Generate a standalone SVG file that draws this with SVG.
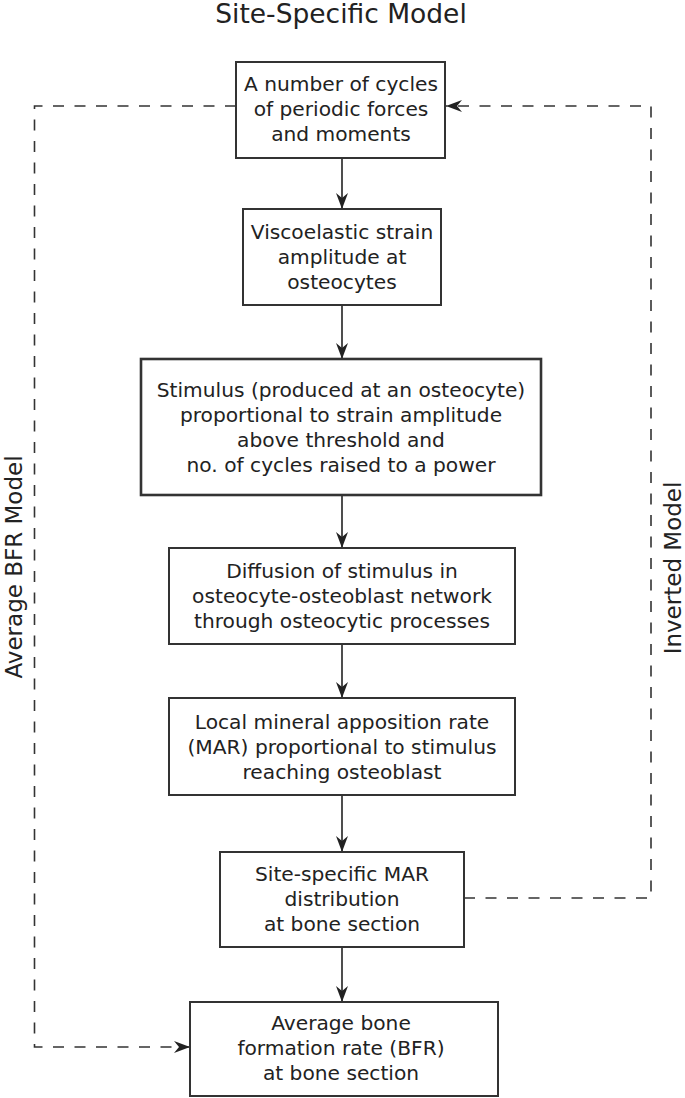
<svg xmlns="http://www.w3.org/2000/svg" width="685" height="1098" viewBox="0 0 685 1098">
<style>
.box{fill:#fff;stroke:#333;stroke-width:2}
.thick{stroke-width:2.6}
.t{font-family:"DejaVu Sans",sans-serif;font-size:20.2px;fill:#222;text-anchor:middle}
.big{font-family:"DejaVu Sans",sans-serif;font-size:23px;fill:#222;text-anchor:middle}
.title{font-family:"DejaVu Sans",sans-serif;font-size:26.5px;fill:#222;text-anchor:middle}
.c{stroke:#222;stroke-width:1.6;fill:none}
.d{stroke:#333;stroke-width:1.6;fill:none;stroke-dasharray:11,10.5}
</style>
<defs>
<marker id="ah" viewBox="0 0 16 12" refX="16" refY="6" markerWidth="16" markerHeight="12" markerUnits="userSpaceOnUse" orient="auto">
<path d="M0,0 L16,6 L0,12 L5,6 z" fill="#222"/>
</marker>
</defs>
<text class="title" x="341" y="23">Site-Specific Model</text>
<text class="big" transform="translate(22,567) rotate(-90)">Average BFR Model</text>
<text class="big" transform="translate(681,568) rotate(-90)">Inverted Model</text>
<g id="connectors">
<line class="c" x1="342" y1="158" x2="342" y2="209" marker-end="url(#ah)"/>
<line class="c" x1="342" y1="305" x2="342" y2="359" marker-end="url(#ah)"/>
<line class="c" x1="342" y1="495" x2="342" y2="548" marker-end="url(#ah)"/>
<line class="c" x1="342" y1="644" x2="342" y2="698" marker-end="url(#ah)"/>
<line class="c" x1="342" y1="795" x2="342" y2="852" marker-end="url(#ah)"/>
<line class="c" x1="342" y1="947" x2="342" y2="1002" marker-end="url(#ah)"/>
<polyline class="d" points="236,106 34.5,106 34.5,1047 190,1047" marker-end="url(#ah)"/>
<polyline class="d" points="464,898 651,898 651,106 446,106" marker-end="url(#ah)"/>
</g>
<g id="n1"><rect class="box" x="236" y="62" width="209" height="96"/>
<text class="t" x="341" y="91">A number of cycles</text><text class="t" x="341" y="116">of periodic forces</text><text class="t" x="341" y="141">and moments</text></g>
<g id="n2"><rect class="box" x="243" y="209" width="198" height="96"/>
<text class="t" x="342" y="239">Viscoelastic strain</text><text class="t" x="342" y="264">amplitude at</text><text class="t" x="342" y="289">osteocytes</text></g>
<g id="n3"><rect class="box thick" x="141" y="359" width="400" height="136"/>
<text class="t" x="341" y="397">Stimulus (produced at an osteocyte)</text><text class="t" x="341" y="422">proportional to strain amplitude</text><text class="t" x="341" y="447">above threshold and</text><text class="t" x="341" y="472">no. of cycles raised to a power</text></g>
<g id="n4"><rect class="box" x="169" y="548" width="346" height="96"/>
<text class="t" x="342" y="578">Diffusion of stimulus in</text><text class="t" x="342" y="603">osteocyte-osteoblast network</text><text class="t" x="342" y="628">through osteocytic processes</text></g>
<g id="n5"><rect class="box" x="169" y="698" width="346" height="97"/>
<text class="t" x="342" y="729">Local mineral apposition rate</text><text class="t" x="342" y="754">(MAR) proportional to stimulus</text><text class="t" x="342" y="779">reaching osteoblast</text></g>
<g id="n6"><rect class="box" x="220" y="852" width="244" height="95"/>
<text class="t" x="342" y="881">Site-specific MAR</text><text class="t" x="342" y="906">distribution</text><text class="t" x="342" y="931">at bone section</text></g>
<g id="n7"><rect class="box" x="190" y="1002" width="308" height="94"/>
<text class="t" x="341" y="1030">Average bone</text><text class="t" x="341" y="1055">formation rate (BFR)</text><text class="t" x="341" y="1080">at bone section</text></g>
</svg>
